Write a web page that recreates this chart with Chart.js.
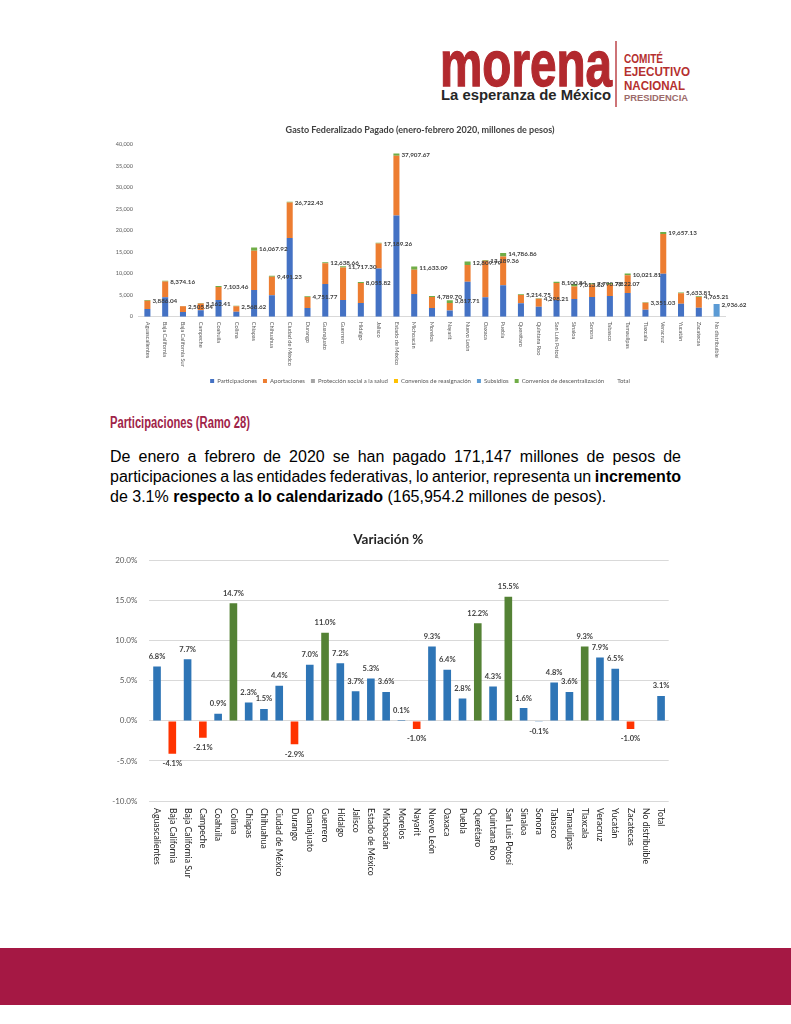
<!DOCTYPE html>
<html lang="es">
<head>
<meta charset="utf-8">
<script src="https://cdn.jsdelivr.net/npm/chart.js@4.4.0/dist/chart.umd.min.js"></script>
<style>
html,body{margin:0;padding:0;background:#fff;}
body{width:791px;height:1024px;position:relative;overflow:hidden;font-family:"Liberation Sans",Arial,sans-serif;}
#svgtext{position:absolute;left:0;top:0;}
canvas{position:absolute;}
#c1{left:100px;top:118px;width:660px;height:276px;}
#c2{left:100px;top:525px;width:580px;height:365px;}
.jl{position:absolute;left:110px;width:571px;white-space:nowrap;font-size:16px;line-height:20px;color:#000;font-family:"Liberation Sans",Arial,sans-serif;}
.jl b{font-weight:bold;}
#footer{position:absolute;left:0;top:948px;width:791px;height:57px;background:#a51844;}
</style>
</head>
<body>
<svg id="svgtext" width="791" height="450" xmlns="http://www.w3.org/2000/svg">
  <text x="440" y="86" font-family="Liberation Sans, Arial" font-size="48" font-weight="bold" fill="#b2292e" stroke="#b2292e" stroke-width="1" textLength="172" lengthAdjust="spacingAndGlyphs" transform="translate(0,86) scale(1,1.35) translate(0,-86)">morena</text>
  <text x="441" y="99.5" font-family="Liberation Sans, Arial" font-size="14.5" font-weight="bold" fill="#262626" textLength="170" lengthAdjust="spacingAndGlyphs">La esperanza de México</text>
  <line x1="616" y1="41" x2="616" y2="107" stroke="#b2292e" stroke-width="1.3"/>
  <text x="624" y="62.5" font-family="Liberation Sans, Arial" font-size="12.5" font-weight="bold" fill="#b5302f" textLength="39" lengthAdjust="spacingAndGlyphs">COMITÉ</text>
  <text x="624" y="76" font-family="Liberation Sans, Arial" font-size="12.5" font-weight="bold" fill="#b5302f" textLength="66" lengthAdjust="spacingAndGlyphs">EJECUTIVO</text>
  <text x="624" y="89.5" font-family="Liberation Sans, Arial" font-size="12.5" font-weight="bold" fill="#b5302f" textLength="61" lengthAdjust="spacingAndGlyphs">NACIONAL</text>
  <text x="624" y="100.5" font-family="Liberation Sans, Arial" font-size="9.5" font-weight="bold" fill="#9c6a6a" textLength="64" lengthAdjust="spacingAndGlyphs">PRESIDENCIA</text>
  <text x="110" y="428" font-family="Liberation Sans Narrow, Liberation Sans, Arial" font-size="16" font-weight="bold" fill="#9f2449" textLength="140" lengthAdjust="spacingAndGlyphs">Participaciones (Ramo 28)</text>
</svg>

<div class="jl" id="l1" style="top:447px;"><span>De enero a febrero de 2020 se han pagado 171,147 millones de pesos de</span></div>
<div class="jl" id="l2" style="top:467px;"><span>participaciones a las entidades federativas, lo anterior, representa un <b>incremento</b></span></div>
<div class="jl" id="l3" style="top:487px;"><span>de 3.1% <b>respecto a lo calendarizado</b> (165,954.2 millones de pesos).</span></div>

<canvas id="c1" width="660" height="276"></canvas>
<canvas id="c2" width="580" height="365"></canvas>
<div id="footer"></div>

<script>
// ---------- DATA: Gasto Federalizado Pagado ----------
const estados = ['Aguascalientes','Baja California','Baja California Sur','Campeche','Coahuila','Colima','Chiapas','Chihuahua','Ciudad de México','Durango','Guanajuato','Guerrero','Hidalgo','Jalisco','Estado de México','Michoacán','Morelos','Nayarit','Nuevo León','Oaxaca','Puebla','Querétaro','Quintana Roo','San Luis Potosí','Sinaloa','Sonora','Tabasco','Tamaulipas','Tlaxcala','Veracruz','Yucatán','Zacatecas','No distribuible'];
const participaciones = [1800,4500,1100,1500,3900,1150,6200,5000,18300,2000,7600,3900,3200,11200,23500,5300,2000,1450,8100,4500,7300,3100,2300,3900,4100,4600,4800,5500,1600,10000,3000,2100,0];
const aportaciones = [1900,3700,1300,1550,3000,1250,9100,4300,8200,2600,4800,7500,4600,5800,13900,5600,2600,1750,3900,8500,6700,1950,1850,3900,2900,2900,2700,4100,1650,9200,2450,2500,0];
const proteccionSocial = [0,0,0,0,0,0,0,0,0,0,0,0,0,0,0,0,0,0,0,0,0,0,0,0,0,0,0,0,0,0,0,0,0];
const conveniosReasignacion = [0,0,0,0,0,0,0,0,0,0,0,0,0,0,0,0,0,0,0,0,0,0,0,0,0,0,0,0,0,0,0,0,0];
const subsidios = [0,0,0,0,0,0,0,0,0,0,0,0,0,0,0,0,0,0,0,0,0,0,0,0,0,0,0,0,0,0,0,0,2936.62];
const conveniosDescentralizacion = [186,174,106,112,203,169,768,191,222,152,239,317,256,189,508,733,190,618,810,189,787,165,148,301,614,291,322,422,101,457,184,165,0];
const totales = [3886.04,8374.16,2505.84,3162.41,7103.46,2568.62,16067.92,9491.23,26722.43,4751.77,12638.66,11717.30,8055.82,17189.26,37907.67,11633.09,4789.70,3817.71,12809.79,13189.36,14786.86,5214.75,4298.21,8100.84,7613.83,7790.78,7822.07,10021.81,3351.03,19657.13,5633.81,4765.21,2936.62];
const ticksGasto = [0,5000,10000,15000,20000,25000,30000,35000,40000];

// ---------- DATA: Variación % ----------
const estadosVar = ['Aguascalientes','Baja California','Baja California Sur','Campeche','Coahuila','Colima','Chiapas','Chihuahua','Ciudad de México','Durango','Guanajuato','Guerrero','Hidalgo','Jalisco','Estado de México','Michoacán','Morelos','Nayarit','Nuevo León','Oaxaca','Puebla','Querétaro','Quintana Roo','San Luis Potosí','Sinaloa','Sonora','Tabasco','Tamaulipas','Tlaxcala','Veracruz','Yucatán','Zacatecas','No distribuible','Total'];
const variacion = [6.8,-4.1,7.7,-2.1,0.9,14.7,2.3,1.5,4.4,-2.9,7.0,11.0,7.2,3.7,5.3,3.6,0.1,-1.0,9.3,6.4,2.8,12.2,4.3,15.5,1.6,-0.1,4.8,3.6,9.3,7.9,6.5,-1.0,null,3.1];
const destacados = ['Colima','Guerrero','Querétaro','San Luis Potosí','Tlaxcala'];

// ---------- paragraph justification ----------
function justify(id, width){
  const el = document.getElementById(id);
  const sp = el.firstElementChild;
  const w = sp.getBoundingClientRect().width;
  const spaces = (sp.textContent.match(/ /g) || []).length;
  if (spaces) el.style.wordSpacing = ((width - w) / spaces) + 'px';
}
justify('l1', 571); justify('l2', 571);

Chart.defaults.font.family = 'Lato, "Open Sans", sans-serif';
Chart.defaults.animation = false;

const fmt2 = v => v.toLocaleString('en-US', {minimumFractionDigits: 2, maximumFractionDigits: 2});

// ---------- Chart 1 ----------
const plugin1 = {
  id: 'etiquetas1',
  afterDraw(chart) {
    const {ctx, scales: {x, y}} = chart;
    ctx.save();
    ctx.font = 'bold 6.3px Lato, sans-serif';
    ctx.fillStyle = '#404040';
    ctx.textAlign = 'left';
    ctx.textBaseline = 'middle';
    totales.forEach((t, i) => {
      ctx.fillText(fmt2(t), x.getPixelForValue(i) + 5, y.getPixelForValue(t) + 1);
    });
    ctx.font = '5.6px Lato, sans-serif';
    ctx.fillStyle = '#595959';
    estados.forEach((e, i) => {
      ctx.save();
      ctx.translate(x.getPixelForValue(i), y.bottom + 5);
      ctx.rotate(Math.PI / 2);
      ctx.textAlign = 'left';
      ctx.textBaseline = 'middle';
      ctx.fillText(e, 0, 0);
      ctx.restore();
    });
    ctx.restore();
  }
};

const barOpts = {barPercentage: 0.34, categoryPercentage: 1.0, stack: 'g'};
const chart1 = new Chart(document.getElementById('c1'), {
  type: 'bar',
  data: {
    labels: estados,
    datasets: [
      Object.assign({label: 'Participaciones', data: participaciones, backgroundColor: '#4472c4'}, barOpts),
      Object.assign({label: 'Aportaciones', data: aportaciones, backgroundColor: '#ed7d31'}, barOpts),
      Object.assign({label: 'Protección social a la salud', data: proteccionSocial, backgroundColor: '#a5a5a5'}, barOpts),
      Object.assign({label: 'Convenios de reasignación', data: conveniosReasignacion, backgroundColor: '#ffc000'}, barOpts),
      Object.assign({label: 'Subsidios', data: subsidios, backgroundColor: '#5b9bd5'}, barOpts),
      Object.assign({label: 'Convenios de descentralización', data: conveniosDescentralizacion, backgroundColor: '#70ad47'}, barOpts),
      {type: 'line', label: 'Total', data: totales, stack: 'total', showLine: false, pointRadius: 0,
       borderColor: 'rgba(0,0,0,0)', backgroundColor: 'rgba(0,0,0,0)', borderWidth: 0}
    ]
  },
  options: {
    responsive: false,
    layout: {padding: {left: 14.5, right: 34.5, top: 0, bottom: 0}},
    plugins: {
      title: {display: true, text: 'Gasto Federalizado Pagado (enero-febrero 2020, millones de pesos)',
              color: '#404040', font: {size: 9, weight: 'bold'}, padding: {top: 6.6, bottom: 9.1}},
      legend: {position: 'bottom', labels: {boxWidth: 4, boxHeight: 4, padding: 6, color: '#595959', font: {size: 6}}},
      tooltip: {enabled: false}
    },
    scales: {
      x: {stacked: true, grid: {display: false}, border: {display: true, color: '#d9d9d9'},
          ticks: {display: false}, afterFit: s => { s.height = 55.3; }},
      y: {stacked: true, min: 0, max: 40000, grid: {display: false, drawTicks: false}, border: {display: false},
          afterBuildTicks: s => { s.ticks = ticksGasto.map(v => ({value: v})); },
          ticks: {color: '#595959', font: {size: 5.5}, padding: 5.5,
                  callback: v => v === 0 ? '0' : v.toLocaleString('en-US')},
          afterFit: s => { s.width = 24; }}
    }
  },
  plugins: [plugin1]
});

// ---------- Chart 2 ----------
const coloresVar = variacion.map((v, i) =>
  (v !== null && v < -0.5) ? '#ff3300' : (destacados.includes(estadosVar[i]) ? '#548235' : '#2e75b6'));

const plugin2 = {
  id: 'etiquetas2',
  afterDraw(chart) {
    const {ctx, scales: {x, y}} = chart;
    const meta = chart.getDatasetMeta(0);
    ctx.save();
    ctx.font = 'bold 7.5px Lato, sans-serif';
    ctx.fillStyle = '#404040';
    ctx.textAlign = 'center';
    ctx.textBaseline = 'middle';
    variacion.forEach((v, i) => {
      if (v === null) return;
      const bar = meta.data[i];
      const yy = v >= 0 ? bar.y - 10 : bar.y + 10;
      ctx.fillText(v.toFixed(1) + '%', bar.x, yy);
    });
    ctx.font = '8.7px Lato, sans-serif';
    ctx.fillStyle = '#262626';
    estadosVar.forEach((e, i) => {
      ctx.save();
      ctx.translate(x.getPixelForValue(i), y.bottom + 7);
      ctx.rotate(Math.PI / 2);
      ctx.textAlign = 'left';
      ctx.textBaseline = 'middle';
      ctx.fillText(e, 0, 0);
      ctx.restore();
    });
    ctx.restore();
  }
};

const chart2 = new Chart(document.getElementById('c2'), {
  type: 'bar',
  data: {
    labels: estadosVar,
    datasets: [{label: 'Variación %', data: variacion, backgroundColor: coloresVar,
                barPercentage: 0.5, categoryPercentage: 1.0}]
  },
  options: {
    responsive: false,
    layout: {padding: {left: 8, right: 11.3, top: 0, bottom: 0}},
    plugins: {
      title: {display: true, text: 'Variación %', color: '#262626',
              font: {size: 13.5, weight: 'bold'}, padding: {top: 6.9, bottom: 12.6}},
      legend: {display: false},
      tooltip: {enabled: false}
    },
    scales: {
      x: {grid: {display: false}, border: {display: false}, ticks: {display: false},
          afterFit: s => { s.height = 89; }},
      y: {min: -10, max: 20, grid: {color: '#d9d9d9', drawTicks: false}, border: {display: false},
          ticks: {stepSize: 5, color: '#595959', font: {size: 8}, padding: 12,
                  callback: v => v.toFixed(1) + '%'},
          afterFit: s => { s.width = 41.4; }}
    }
  },
  plugins: [plugin2]
});
</script>
</body>
</html>
